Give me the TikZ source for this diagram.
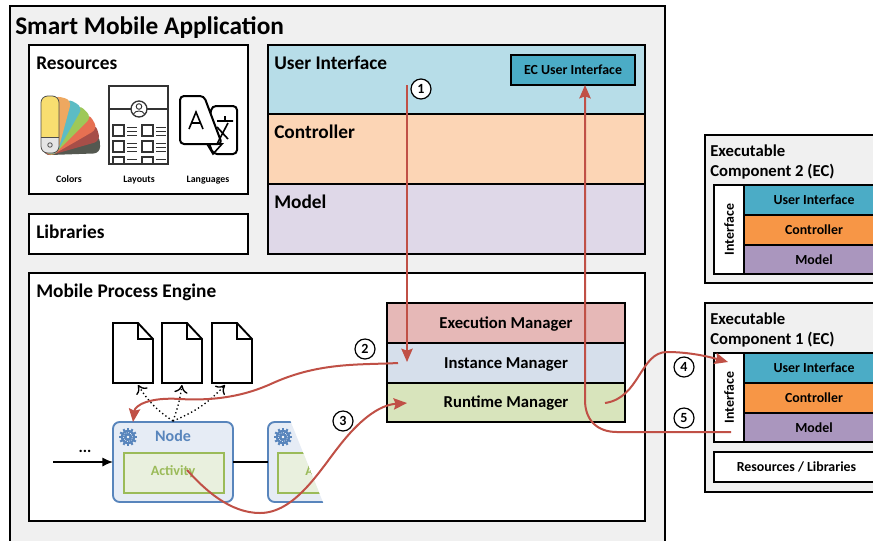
\documentclass[tikz,border=0pt]{standalone}
\usepackage{fontspec}
\setmainfont{Carlito}
\usetikzlibrary{arrows.meta}

\definecolor{panelgray}{RGB}{240,240,240}
\definecolor{redline}{RGB}{192,80,70}
\definecolor{uilight}{RGB}{183,221,232}
\definecolor{ctrllight}{RGB}{252,213,181}
\definecolor{modellight}{RGB}{223,216,232}
\definecolor{uidark}{RGB}{75,172,198}
\definecolor{ctrldark}{RGB}{247,150,70}
\definecolor{modeldark}{RGB}{170,150,190}
\definecolor{execfill}{RGB}{230,184,183}
\definecolor{instfill}{RGB}{214,223,235}
\definecolor{runfill}{RGB}{216,228,188}
\definecolor{nodeblue}{RGB}{88,133,188}
\definecolor{nodefill}{RGB}{230,236,245}
\definecolor{actgreen}{RGB}{155,187,89}
\definecolor{actfill}{RGB}{233,240,222}
\definecolor{fanyellow}{RGB}{248,222,112}
\definecolor{fanorange}{RGB}{238,168,96}
\definecolor{fanteal}{RGB}{92,188,196}
\definecolor{fangreen}{RGB}{158,200,88}
\definecolor{fanred}{RGB}{230,112,82}
\definecolor{fanbrown}{RGB}{166,78,72}
\definecolor{fangray}{RGB}{84,88,80}

\tikzset{
  blk/.style n args={2}{draw=black, line width=1.4pt, inner sep=0pt, outer sep=0pt, anchor=north west,
    minimum width=#1*0.75pt, minimum height=#2*0.75pt, font=\bfseries\fontsize{10.4}{12}\selectfont},
  mgr/.style={font=\bfseries\fontsize{12.5}{14}\selectfont, text height=9.5pt, text depth=1.5pt},
  heading/.style={anchor=base west, inner sep=0pt, font=\bfseries\fontsize{14.5}{17}\selectfont},
  ectitle/.style={anchor=base west, inner sep=0pt, font=\bfseries\fontsize{12.5}{15}\selectfont},
  iconlabel/.style={anchor=base, inner sep=0pt, font=\bfseries\fontsize{7.4}{8}\selectfont},
  stepnum/.style={draw=black, circle, line width=0.9pt, fill=white, inner sep=0pt, minimum size=15pt,
    font=\bfseries\fontsize{10.5}{11}\selectfont},
  redarrow/.style={draw=redline, line width=1.5pt, -{Stealth[length=10pt,width=8.5pt,inset=1.5pt]}},
  nodebox/.style={draw=nodeblue, fill=nodefill, line width=1.4pt, rounded corners=5pt, inner sep=0pt, outer sep=0pt,
    anchor=north west, minimum width=120*0.75pt, minimum height=80*0.75pt},
  actbox/.style={draw=actgreen, fill=actfill, line width=1.3pt, inner sep=0pt, anchor=north west,
    minimum width=100*0.75pt, minimum height=40*0.75pt},
  acttext/.style={inner sep=0pt, text=actgreen, font=\bfseries\fontsize{10.6}{12}\selectfont},
  icon/.style={line width=1pt, black!80},
  docarrow/.style={black, dotted, line width=1pt, -{To[length=6pt,width=10pt]}},
}

\newcommand{\gearicon}[2]{
  \foreach \a in {0,30,...,330}
    \draw[nodeblue, line width=1.5pt] (#1,#2) -- ++(\a:6.8pt);
  \fill[nodeblue] (#1,#2) circle (5.4pt);
  \draw[white, line width=0.5pt, densely dotted] (#1,#2) circle (3.4pt);
  \fill[white] (#1,#2) circle (1pt);
}

% one executable component, #1 number, #2 top of the panel, #3 bottom of the panel
\newcommand{\ecpanel}[3]{
  \draw[black, line width=1.1pt, fill=panelgray] (705,#2) rectangle (880,#3);
  \node[ectitle] (ectitlea#1) at (710,#2+21) {Executable};
  \node[ectitle] (ectitleb#1) at (710,#2+41) {Component #1 (EC)};
  \node[blk={30}{89}, fill=white, line width=1.1pt] (ecif#1) at (714,#2+50) {\rotatebox{90}{Interface}};
  \node[blk={140}{30}, fill=uidark, line width=1.1pt] (ecui#1) at (744,#2+50) {User Interface};
  \node[blk={140}{30}, fill=ctrldark, line width=1.1pt] (ecctrl#1) at (744,#2+80) {Controller};
  \node[blk={140}{29}, fill=modeldark, line width=1.1pt] (ecmodel#1) at (744,#2+110) {Model};
}

\begin{document}
\begin{tikzpicture}[x=0.75pt,y=-0.75pt]
  \useasboundingbox (0,0) rectangle (873,540);
  \begin{scope}
    \clip (0,0) rectangle (873,540);

    \draw[black, line width=1.1pt, fill=panelgray] (10,6) rectangle (665,560);
    \node[anchor=base west, inner sep=0pt, font=\bfseries\fontsize{19}{22}\selectfont] (apptitle) at (15,34) {Smart Mobile Application};

    % resources
    \node[blk={219}{149}, fill=white] (resbox) at (29,45) {};
    \node[heading] (restitle) at (36,69) {Resources};

    \foreach \ang/\col in {88/fangray,74/fanbrown,60/fanred,45/fangreen,30/fanteal,15/fanorange}
      \fill[\col, rounded corners=5pt, rotate around={-\ang:(50,146)}] (41,153) rectangle (59,96);
    \fill[fanyellow, rounded corners=5pt] (41,153) rectangle (59,96);
    \fill[black!10, rounded corners=5pt] (41,153) rectangle (59,138);
    \fill[black!10] (41,137) rectangle (59,143);
    \draw[black!70, line width=0.6pt, rounded corners=5pt] (41,153) rectangle (59,96);
    \draw[black!70, line width=0.5pt] (41,137) -- (59,137);
    \draw[black!70, line width=0.6pt] (50,145) circle (1.7pt);
    \node[iconlabel] (colorslabel) at (69,182) {Colors};

    \draw[icon] (109,86) rectangle (168,164);
    \draw[icon] (109,109) -- (168,109);
    \fill[white] (139,109) circle (6pt);
    \draw[icon] (139,109) circle (6pt);
    \draw[icon, line width=0.7pt] (139,106.5) circle (2.1pt);
    \draw[icon, line width=0.7pt] (133.5,114) .. controls (135,110) and (143,110) .. (144.5,114);
    \foreach \x in {113,142}{
      \foreach \y in {130,146,162}{
        \begin{scope}
          \clip (105,\y-8) rectangle (172,164);
          \draw[icon, line width=0.9pt] (\x,\y-5) rectangle (\x+11,\y+6);
          \foreach \d in {-3,1,5}
            \draw[icon, line width=0.7pt] (\x+14,\y+\d) -- (\x+24,\y+\d);
        \end{scope}
      }
    }
    \node[iconlabel] (layoutslabel) at (139,182) {Layouts};

    \draw[black, line width=1.5pt, rounded corners=3pt, fill=white] (212,106) -- (237,106) -- (237,154) -- (213,154) -- (206,135) -- cycle;
    \draw[black, line width=1.5pt, rounded corners=3pt, fill=white] (180,96) -- (204,96) -- (222,144) -- (180,144) -- cycle;
    \draw[black, line width=1.2pt] (217,121) -- (233,121) (225,116) -- (225,121) (217,144) -- (228,123) (217,127) -- (228,139);
    \draw[black, line width=1.2pt] (222,144) -- (207,144) -- (213,154) -- cycle;
    \draw[black, line width=1.2pt] (189,129) -- (196,112) -- (203,129) (192,123) -- (200,123);
    \node[iconlabel] (languageslabel) at (208,182) {Languages};

    % libraries
    \node[blk={219}{40}, fill=white] (libbox) at (29,214) {};
    \node[heading] (libtitle) at (36,238) {Libraries};

    % user interface stack
    \node[blk={377}{69}, fill=uilight] (uibox) at (268,45) {};
    \node[blk={377}{70}, fill=ctrllight] (ctrlbox) at (268,114) {};
    \node[blk={377}{70}, fill=modellight] (modelbox) at (268,184) {};
    \node[heading] (uititle) at (274,69) {User Interface};
    \node[heading] (ctrltitle) at (274,138) {Controller};
    \node[heading] (modeltitle) at (274,208) {Model};
    \node[blk={124}{30}, fill=uidark, line width=1pt] (ecuibox) at (511,55) {EC User Interface};

    % process engine
    \node[blk={616}{248}, fill=white] (enginebox) at (29,273) {};
    \node[heading] (enginetitle) at (36,297) {Mobile Process Engine};

    \node[blk={238}{40}, fill=execfill, mgr] (execm) at (387,303) {Execution Manager};
    \node[blk={238}{40}, fill=instfill, mgr] (instm) at (387,343) {Instance Manager};
    \node[blk={238}{39}, fill=runfill, mgr] (runm) at (387,383) {Runtime Manager};

    \foreach \n/\x in {1/113,2/162,3/212}{
      \draw[black, line width=1.4pt, fill=white] (\x,323) -- (\x+25,323) -- (\x+40,339) -- (\x+40,383) -- (\x,383) -- cycle;
      \draw[black, line width=1.4pt] (\x+25,323) -- (\x+25,339) -- (\x+40,339);
    }
    \coordinate (doca) at (138,385);
    \coordinate (docb) at (182,385);
    \coordinate (docc) at (225,385);

    \node[nodebox] (nodea) at (113,422) {};
    \node[inner sep=0pt, text=nodeblue, font=\bfseries\fontsize{12}{14}\selectfont] (nodetitle) at (173,436) {Node};
    \node[actbox] (acta) at (123,452) {};
    \node[acttext] (actatext) at (173,472) {Activity};
    \gearicon{128}{437}

    \begin{scope}
      \clip (260,415) -- (288,415) -- (324,505) -- (260,505) -- cycle;
      \node[nodebox] (nodeb) at (268,422) {};
      \node[actbox] (actb) at (277,452) {};
      \node[acttext, anchor=west] (actbtext) at (305,472) {Activity};
      \gearicon{283}{437}
    \end{scope}

    \coordinate (entry) at (53,462);
    \draw[black, line width=1.2pt, -{Latex[length=8pt,width=7pt]}] (entry) -- (nodea.west |- entry);
    \node[inner sep=0pt, font=\bfseries\fontsize{12}{14}\selectfont] (dots) at (85,451) {...};
    \draw[black, line width=1.2pt] (nodea.east |- entry) -- (nodeb.west |- entry);

    \coordinate (nodetop) at (173,421);
    \draw[docarrow] (nodetop) to[bend left=12] (doca);
    \draw[docarrow] (nodetop) to[bend right=6] (docb);
    \draw[docarrow] (nodetop) to[bend right=12] (docc);
  \end{scope}

  % executable components
  \ecpanel{2}{135}{283}
  \ecpanel{1}{303}{492}
  \node[blk={165}{30}, fill=white, line width=1.1pt] (ecres) at (714,452) {Resources / Libraries};

  % red arrows
  \coordinate (starta) at (407,85);
  \coordinate (enda) at (407,362);
  \coordinate (startb) at (398,363);
  \coordinate (endb) at (133,422);
  \coordinate (startc) at (187,470);
  \coordinate (endc) at (407,403);
  \coordinate (startd) at (605,403);
  \coordinate (endd) at (728,362);
  \coordinate (starte) at (731,432);
  \coordinate (bende) at (585,400);

  \draw[redarrow] (starta) -- (enda);
  \draw[redarrow] (startb) .. controls (360,365) and (320,362) .. (273,383) .. controls (245,396) and (215,401) .. (180,399) .. controls (150,397) and (135,405) .. (endb);
  \draw[redarrow] (startc) .. controls (205,490) and (230,513) .. (260,513) .. controls (295,513) and (320,470) .. (340,445) .. controls (358,422) and (378,405) .. (endc);
  \draw[redarrow] (startd) .. controls (640,398) and (640,352) .. (667,352) .. controls (690,352) and (710,357) .. (endd);
  \draw[redarrow] (starte) -- (617,432) .. controls (597,432) and (585,420) .. (bende) -- (ecuibox.south -| bende);

  \node[stepnum] (stepa) at (421,89) {1};
  \node[stepnum] (stepb) at (365,349) {2};
  \node[stepnum] (stepc) at (343,421) {3};
  \node[stepnum] (stepd) at (684,367) {4};
  \node[stepnum] (stepe) at (684,418) {5};
\end{tikzpicture}
\end{document}
